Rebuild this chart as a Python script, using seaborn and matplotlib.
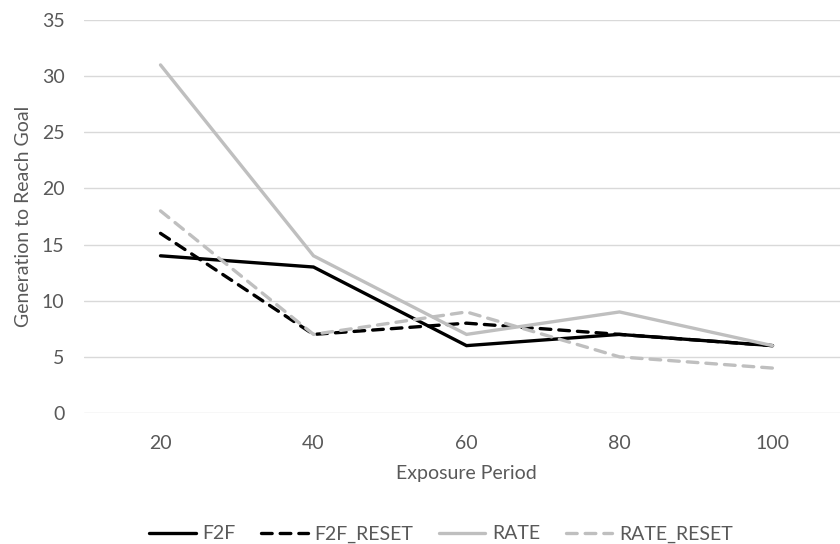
import matplotlib
matplotlib.use("Agg")
import matplotlib.pyplot as plt
from matplotlib.lines import Line2D
import seaborn as sns
import pandas as pd

periods = [20, 40, 60, 80, 100]
f2f = [14, 13, 6, 7, 6]
f2f_reset = [16, 7, 8, 7, 6]
rate = [31, 14, 7, 9, 6]
rate_reset = [18, 7, 9, 5, 4]
series_names = ["F2F", "F2F_RESET", "RATE", "RATE_RESET"]
y_ticks = [0, 5, 10, 15, 20, 25, 30, 35]

sns.set_theme(style="white")
plt.rcParams['font.family'] = ['Lato', 'DejaVu Sans']

rows = []
for name, vals in zip(series_names, [f2f, f2f_reset, rate, rate_reset]):
    for p, v in zip(periods, vals):
        rows.append({"Exposure Period": p, "value": v, "series": name})
df = pd.DataFrame(rows)

FS = 14
TXT = "#595959"
LW = 2.4

fig = plt.figure(figsize=(8.4, 5.44), dpi=100)
ax = fig.add_axes([84/840, (544-413)/544, (849-84)/840, (413-20)/544])

palette = {"F2F": "#000000", "F2F_RESET": "#000000", "RATE": "#BFBFBF", "RATE_RESET": "#BFBFBF"}
dashes = {"F2F": "", "F2F_RESET": (3.2, 2.4), "RATE": "", "RATE_RESET": (3.2, 2.4)}
sns.lineplot(data=df, x="Exposure Period", y="value", hue="series", style="series",
             palette=palette, dashes=dashes, linewidth=LW, ax=ax, legend=False,
             hue_order=series_names, style_order=series_names)
for ln in ax.get_lines():
    ln.set_dash_capstyle("round")
    ln.set_solid_capstyle("round")
    ln.set_solid_joinstyle("miter")

ax.set_xlim(10, 110)
ax.set_ylim(0, 35)
ax.set_xticks(periods)
ax.set_xticklabels([str(p) for p in periods])
ax.set_yticks(y_ticks)
ax.yaxis.grid(True, color="#D9D9D9", linewidth=1)
ax.xaxis.grid(False)
ax.set_axisbelow(True)
for s in ax.spines.values():
    s.set_visible(False)
ax.tick_params(axis="both", length=0, labelsize=FS, colors=TXT)
ax.tick_params(axis="x", pad=16)
ax.tick_params(axis="y", pad=14)
ax.set_xlabel("Exposure Period", fontsize=FS, color=TXT, labelpad=9)
ax.set_ylabel("Generation to Reach Goal", fontsize=FS, color=TXT, labelpad=7)

handles = []
for name in series_names:
    h = Line2D([0], [0], color=palette[name], linewidth=LW,
               linestyle=(0, dashes[name]) if dashes[name] else "-",
               dash_capstyle="round", solid_capstyle="round")
    handles.append(h)
fig.legend(handles, series_names, loc="center", bbox_to_anchor=(0.525, 10/544), ncol=4,
           frameon=False, fontsize=FS, labelcolor=TXT, handlelength=2.4,
           handletextpad=0.35, columnspacing=1.3, borderaxespad=0, borderpad=0)

fig.savefig("out.png", dpi=100)
